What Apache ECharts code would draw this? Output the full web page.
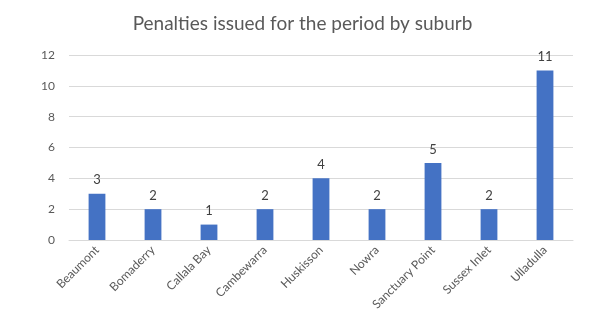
<!DOCTYPE html>
<html><head><meta charset="utf-8">
<script src="https://cdn.jsdelivr.net/npm/echarts@6/dist/echarts.min.js"></script>
<style>html,body{margin:0;padding:0;background:#fff}#c{width:605px;height:324px}</style>
</head><body><div id="c"></div>
<script>
const categories = ["Beaumont","Bomaderry","Callala Bay","Cambewarra","Huskisson","Nowra","Sanctuary Point","Sussex Inlet","Ulladulla"];
const penalties = [3,2,1,2,4,2,5,2,11];
const chart = echarts.init(document.getElementById('c'));
chart.setOption({
  animation:false,
  backgroundColor:'#fff',
  title:{text:'Penalties issued for the period by suburb',left:'center',top:9,
    textStyle:{fontFamily:'Lato',fontWeight:'normal',fontSize:19,color:'#595959'}},
  grid:{left:69,right:32,top:55,bottom:84},
  xAxis:{type:'category',data:categories,
    axisLine:{lineStyle:{color:'#d9d9d9'}},axisTick:{show:false},
    axisLabel:{rotate:45,fontFamily:'Lato',fontSize:12,color:'#595959',margin:8,interval:0}},
  yAxis:{type:'value',min:0,max:12,interval:2,
    axisLine:{show:false},axisTick:{show:false},
    splitLine:{lineStyle:{color:'#d9d9d9'}},
    axisLabel:{fontFamily:'Lato',fontSize:12,color:'#595959',margin:14}},
  series:[{type:'bar',data:penalties,barWidth:'30%',
    itemStyle:{color:'#4472C4'},
    label:{show:true,position:'top',fontFamily:'Lato',fontSize:13,color:'#404040',distance:7}}]
});
</script></body></html>
